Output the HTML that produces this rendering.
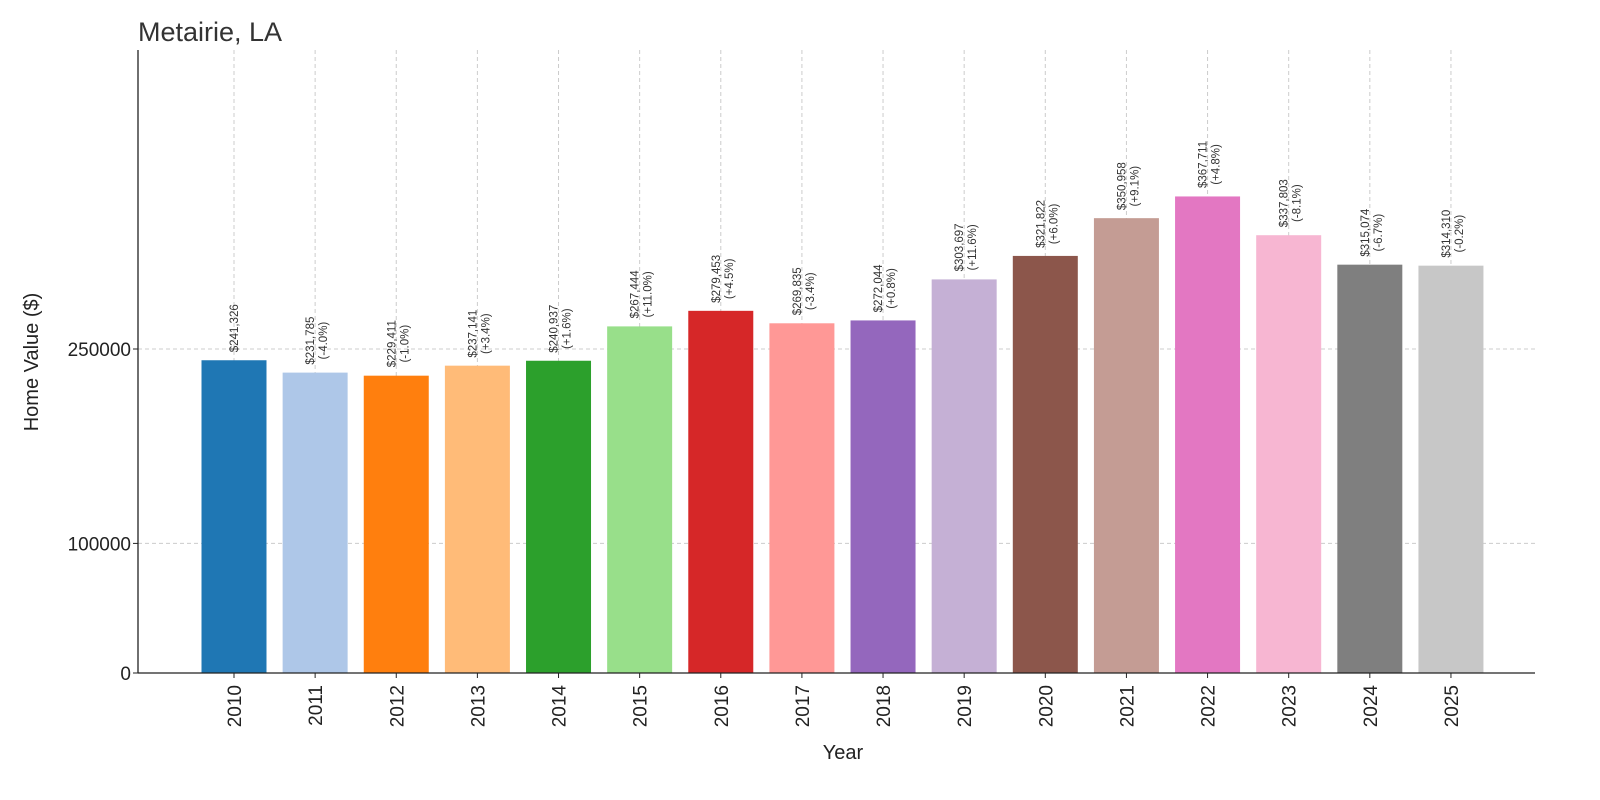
<!DOCTYPE html>
<html><head><meta charset="utf-8"><style>
html,body{margin:0;padding:0;background:#fff;width:1600px;height:800px;overflow:hidden;}
svg{display:block;}
svg text{font-family:"Liberation Sans","DejaVu Sans",sans-serif;}
</style></head><body>
<svg id="chart" width="1600" height="800" xmlns="http://www.w3.org/2000/svg">
<text x="138" y="41" font-size="27" fill="#333">Metairie, LA</text>
<text transform="translate(38,362) rotate(-90)" text-anchor="middle" font-size="20" fill="#222">Home Value ($)</text>
<text x="843" y="759" text-anchor="middle" font-size="20" fill="#222">Year</text>
<g id="grid"></g><g id="bars"></g><g id="labels"></g><g id="axes"></g>
</svg>
<script>
const years=[2010,2011,2012,2013,2014,2015,2016,2017,2018,2019,2020,2021,2022,2023,2024,2025];
const values=[241326,231785,229411,237141,240937,267444,279453,269835,272044,303697,321822,350958,367711,337803,315074,314310];
const changes=["","-4.0%","-1.0%","+3.4%","+1.6%","+11.0%","+4.5%","-3.4%","+0.8%","+11.6%","+6.0%","+9.1%","+4.8%","-8.1%","-6.7%","-0.2%"];
const yTicks=[0,100000,250000];
const colors=["#1f77b4","#aec7e8","#ff7f0e","#ffbb78","#2ca02c","#98df8a","#d62728","#ff9896","#9467bd","#c5b0d5","#8c564b","#c49c94","#e377c2","#f7b6d2","#7f7f7f","#c7c7c7"];
const NS="http://www.w3.org/2000/svg";
const y0=673,pxPer=0.001296;
const yS=v=>y0-v*pxPer;
const xS=i=>234+i*81.13;
function mk(t,a,p){const e=document.createElementNS(NS,t);for(const k in a)e.setAttribute(k,a[k]);p.appendChild(e);return e;}
const grid=document.getElementById('grid'),bars=document.getElementById('bars'),labels=document.getElementById('labels'),axes=document.getElementById('axes');
yTicks.forEach(v=>{
 const y=yS(v);
 if(v>0){const g=mk('line',{x1:138,x2:1535,y1:y,y2:y,stroke:'#ccc','stroke-dasharray':'4,3','stroke-width':1},grid);
 
 }
 const t=mk('text',{x:131,y:y+7,'text-anchor':'end','font-size':19,fill:'#222'},axes);t.textContent=v;
 
 
 mk('line',{x1:133,x2:138,y1:y,y2:y,stroke:'#222'},axes);
});
years.forEach((yr,i)=>{
 const x=xS(i),top=yS(values[i]);
 const b=mk('rect',{x:x-32.5,y:top,width:65,height:y0-top,fill:colors[i]},bars);
 
 
 const g=mk('line',{x1:x,x2:x,y1:50,y2:y0,stroke:'#ccc','stroke-dasharray':'4,3','stroke-width':1},grid);
 
 
 const c=top-32;
 const l1=mk('text',{transform:`translate(${x-(changes[i]?1:-4)},${c}) rotate(-90)`,'text-anchor':'middle','font-size':11.5,fill:'#333'},labels);
 l1.textContent='$'+values[i].toLocaleString('en-US');
 
 
 if(changes[i]){const l2=mk('text',{transform:`translate(${x+12},${c}) rotate(-90)`,'text-anchor':'middle','font-size':11.5,fill:'#333'},labels);
 l2.textContent='('+changes[i]+')';
 
 }
 mk('line',{x1:x,x2:x,y1:y0,y2:y0+5,stroke:'#222'},axes);
 const t=mk('text',{transform:`translate(${x+7},${y0+12}) rotate(-90)`,'text-anchor':'end','font-size':19,fill:'#222'},axes);
 t.textContent=yr;
 
 
});
const ax=mk('line',{x1:138,x2:138,y1:50,y2:y0,stroke:'#222','stroke-width':1.3},axes);


const bx=mk('line',{x1:138,x2:1535,y1:y0,y2:y0,stroke:'#222','stroke-width':1.3},axes);


</script>
</body></html>
